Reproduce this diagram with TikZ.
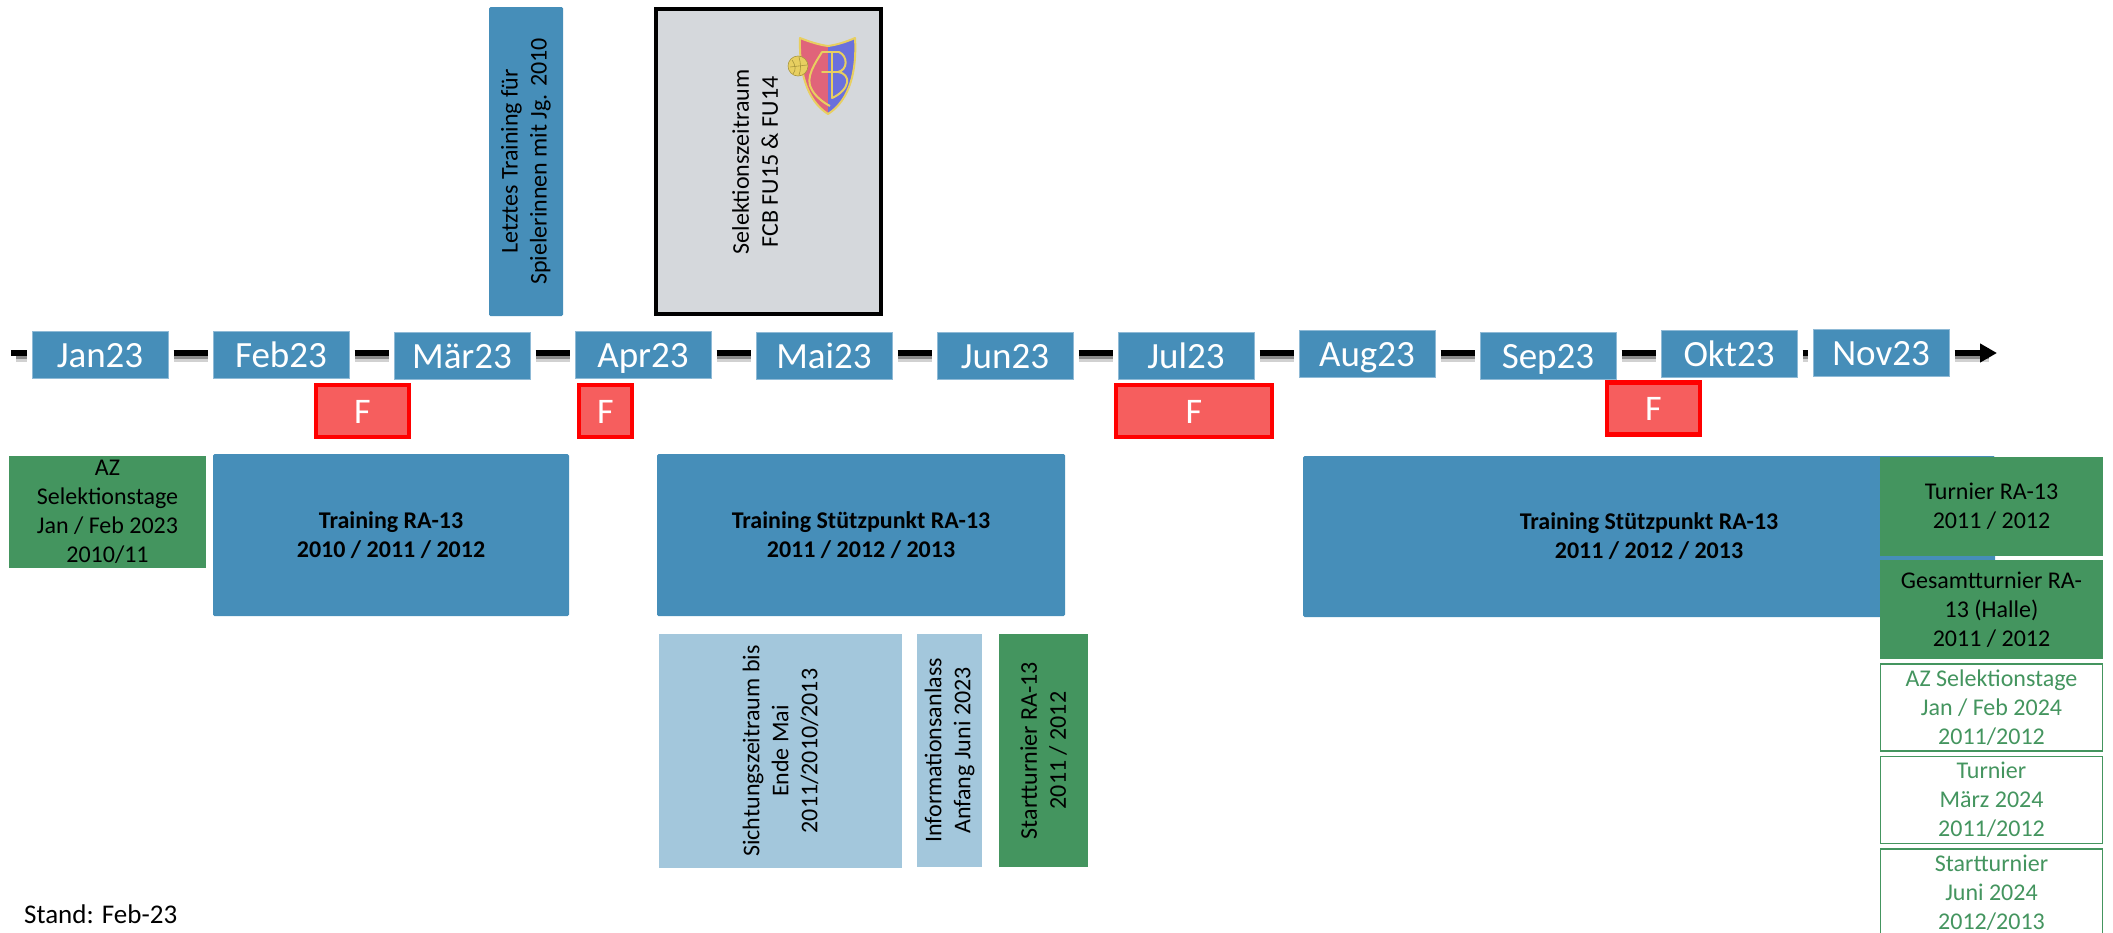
\documentclass[tikz,border=0pt]{standalone}
\usepackage{fontspec}
\setmainfont{Carlito}
\usetikzlibrary{arrows.meta}
\definecolor{rablue}{HTML}{468EB9}
\definecolor{raedge}{HTML}{8FBAD6}
\definecolor{ralight}{HTML}{A3C7DC}
\definecolor{ragreen}{HTML}{44955F}
\definecolor{ragray}{HTML}{D5D8DC}
\definecolor{rared}{HTML}{F65E5E}
\definecolor{crestred}{HTML}{E0647A}
\definecolor{crestblue}{HTML}{6A70DC}
\definecolor{crestgold}{HTML}{E8CF60}
\definecolor{crestdark}{HTML}{A8963C}
\tikzset{
    txt/.style={font=\fontsize{24}{29}\selectfont, align=center, inner sep=0pt},
    month/.style={draw=raedge, line width=1pt, fill=rablue, text=white, minimum width=136, minimum height=47, inner sep=0pt, text height=25pt, text depth=0pt, font=\fontsize{37}{40}\selectfont},
    ferien/.style={draw=red, line width=4.5pt, fill=rared, text=white, minimum height=52, inner sep=0pt, text height=24pt, text depth=0pt, font=\fontsize{36}{40}\selectfont},
    bluebox/.style={txt, fill=rablue, rounded corners=1.5pt},
    lightbox/.style={txt, fill=ralight},
    greenbox/.style={txt, fill=ragreen},
    openbox/.style={txt, draw=ragreen, line width=1.5pt, fill=white, text=ragreen},
    axisline/.style={line width=6pt, shorten <=5pt, shorten >=5pt},
    fadea/.style={line width=3pt, black!45, shorten <=5pt, shorten >=5pt},
    fadeb/.style={line width=3pt, black!18, shorten <=5pt, shorten >=5pt},
}
\begin{document}
\begin{tikzpicture}[x=1pt, y=-1pt]
    \useasboundingbox (0,0) rectangle (2113,932);

    \coordinate (axs) at (11,353);
    \coordinate (axa) at (11,357.5);
    \coordinate (axb) at (11,360.5);
    \coordinate (axe) at (1997,353);

    % months
    \node (jan) [month] at (100,354.5) {Jan23};
    \node (feb) [month] at (281,354.5) {Feb23};
    \node (mar) [month] at (462,356) {Mär23};
    \node (apr) [month] at (643,354.5) {Apr23};
    \node (mai) [month] at (824,356) {Mai23};
    \node (jun) [month] at (1005,356) {Jun23};
    \node (jul) [month] at (1186,355.5) {Jul23};
    \node (aug) [month] at (1367,354) {Aug23};
    \node (sep) [month] at (1548,356) {Sep23};
    \node (okt) [month] at (1729,354) {Okt23};
    \node (nov) [month] at (1881,353) {Nov23};

    % time line
    \draw[fadeb] (axb) -- (jan.west |- axb);
    \draw[fadea] (axa) -- (jan.west |- axa);
    \draw[axisline, shorten <=0pt] (axs) -- (jan.west |- axs);
    \foreach \a/\b in {jan/feb,feb/mar,mar/apr,apr/mai,mai/jun,jun/jul,jul/aug,aug/sep,sep/okt,okt/nov} {
        \draw[fadeb] (\a.east |- axb) -- (\b.west |- axb);
        \draw[fadea] (\a.east |- axa) -- (\b.west |- axa);
        \draw[axisline] (\a.east |- axs) -- (\b.west |- axs);
    }
    \draw[fadeb, shorten >=8pt] (nov.east |- axb) -- (axe |- axb);
    \draw[fadea, shorten >=8pt] (nov.east |- axa) -- (axe |- axa);
    \draw[axisline, shorten >=0pt, -{Triangle[length=17pt,width=18pt]}] (nov.east |- axs) -- (axe);

    % top
    \node (letztes) [bluebox, rotate=90, minimum width=309, minimum height=74] at (526,161.5) {Letztes Training für\\Spielerinnen mit Jg. 2010};
    \node (selekt) [draw=black, line width=4.5pt, fill=ragray, minimum width=225, minimum height=305, inner sep=0pt] at (768.5,161.5) {};
    \node (selekttxt) [txt, rotate=90] at (755,162) {Selektionszeitraum\\FCB FU15 \& FU14};

    % crest
    \fill[crestred] (800,38) .. controls (810,42) and (820,45) .. (828,46) -- (828,114) .. controls (806,100) and (799,70) .. cycle;
    \fill[crestblue] (855,38) .. controls (846,42) and (836,45) .. (828,46) -- (828,114) .. controls (850,100) and (857,70) .. cycle;
    \draw[crestgold, line width=2pt, line join=round] (800,38) .. controls (810,42) and (820,45) .. (828,46) .. controls (836,45) and (846,42) .. (855,38) .. controls (857,70) and (850,100) .. (828,114) .. controls (806,100) and (799,70) .. cycle;
    \draw[crestgold, line width=2pt, line cap=round] (822,52) -- (839,52) (832,52) -- (832,98) (822,72) -- (838,72);
    \draw[crestgold, line width=2pt] (822,52) .. controls (816,62) and (804,78) .. (812,90) .. controls (816,97) and (824,103) .. (830,106);
    \draw[crestgold, line width=2pt] (839,52) .. controls (848,56) and (848,70) .. (838,72) .. controls (852,74) and (850,90) .. (832,98);
    \fill[crestgold, draw=crestdark, line width=.6pt] (798,66) circle (10);
    \draw[crestdark, line width=.6pt] (792,60) .. controls (796,66) and (796,70) .. (793,74) (799,57) .. controls (801,64) and (801,70) .. (799,75) (790,67) -- (807,65);

    % holidays
    \node (f1) [ferien, minimum width=93] at (362.5,411) {F};
    \node (f2) [ferien, minimum width=53] at (605.5,411) {F};
    \node (f3) [ferien, minimum width=156] at (1194,411) {F};
    \node (f4) [ferien, minimum width=93] at (1653.5,408.5) {F};

    % below the line
    \node (azs) [greenbox, minimum width=197, minimum height=112] at (107.5,512) {AZ\\Selektionstage\\Jan / Feb 2023\\2010/11};
    \node (tra) [bluebox, minimum width=356, minimum height=162, yshift=-1pt] at (391,534) {\textbf{Training RA-13}\\\textbf{2010 / 2011 / 2012}};
    \node (tsa) [bluebox, minimum width=408, minimum height=162, yshift=-1pt] at (861,534) {\textbf{Training Stützpunkt RA-13}\\\textbf{2011 / 2012 / 2013}};
    \node (tsb) [bluebox, minimum width=692, minimum height=161, yshift=-1pt] at (1649,535.5) {\textbf{Training Stützpunkt RA-13}\\\textbf{2011 / 2012 / 2013}};

    \node (sicht) [lightbox, rotate=90, minimum width=234, minimum height=243] at (780.5,751) {Sichtungszeitraum bis\\Ende Mai\\2011/2010/2013};
    \node (info) [lightbox, rotate=90, minimum width=233, minimum height=65] at (949.5,750.5) {Informationsanlass\\Anfang Juni 2023};
    \node (start) [greenbox, rotate=90, minimum width=233, minimum height=89] at (1043.5,750.5) {Startturnier RA-13\\2011 / 2012};

    % right column
    \node (tur) [greenbox, minimum width=223, minimum height=99] at (1991.5,506.5) {Turnier RA-13\\2011 / 2012};
    \node (ges) [greenbox, minimum width=223, minimum height=99] at (1991.5,609.5) {Gesamtturnier RA-\\13 (Halle)\\2011 / 2012};
    \node (azn) [openbox, minimum width=222, minimum height=87] at (1991.5,707.5) {AZ Selektionstage\\Jan / Feb 2024\\2011/2012};
    \node (tun) [openbox, minimum width=222, minimum height=87] at (1991.5,800) {Turnier\\März 2024\\2011/2012};
    \node (stn) [openbox, minimum width=222, minimum height=88] at (1991.5,893) {Startturnier\\Juni 2024\\2012/2013};

    \node (stand) [txt, anchor=base west, font=\fontsize{27}{29}\selectfont] at (24,923) {Stand: Feb-23};
\end{tikzpicture}
\end{document}
